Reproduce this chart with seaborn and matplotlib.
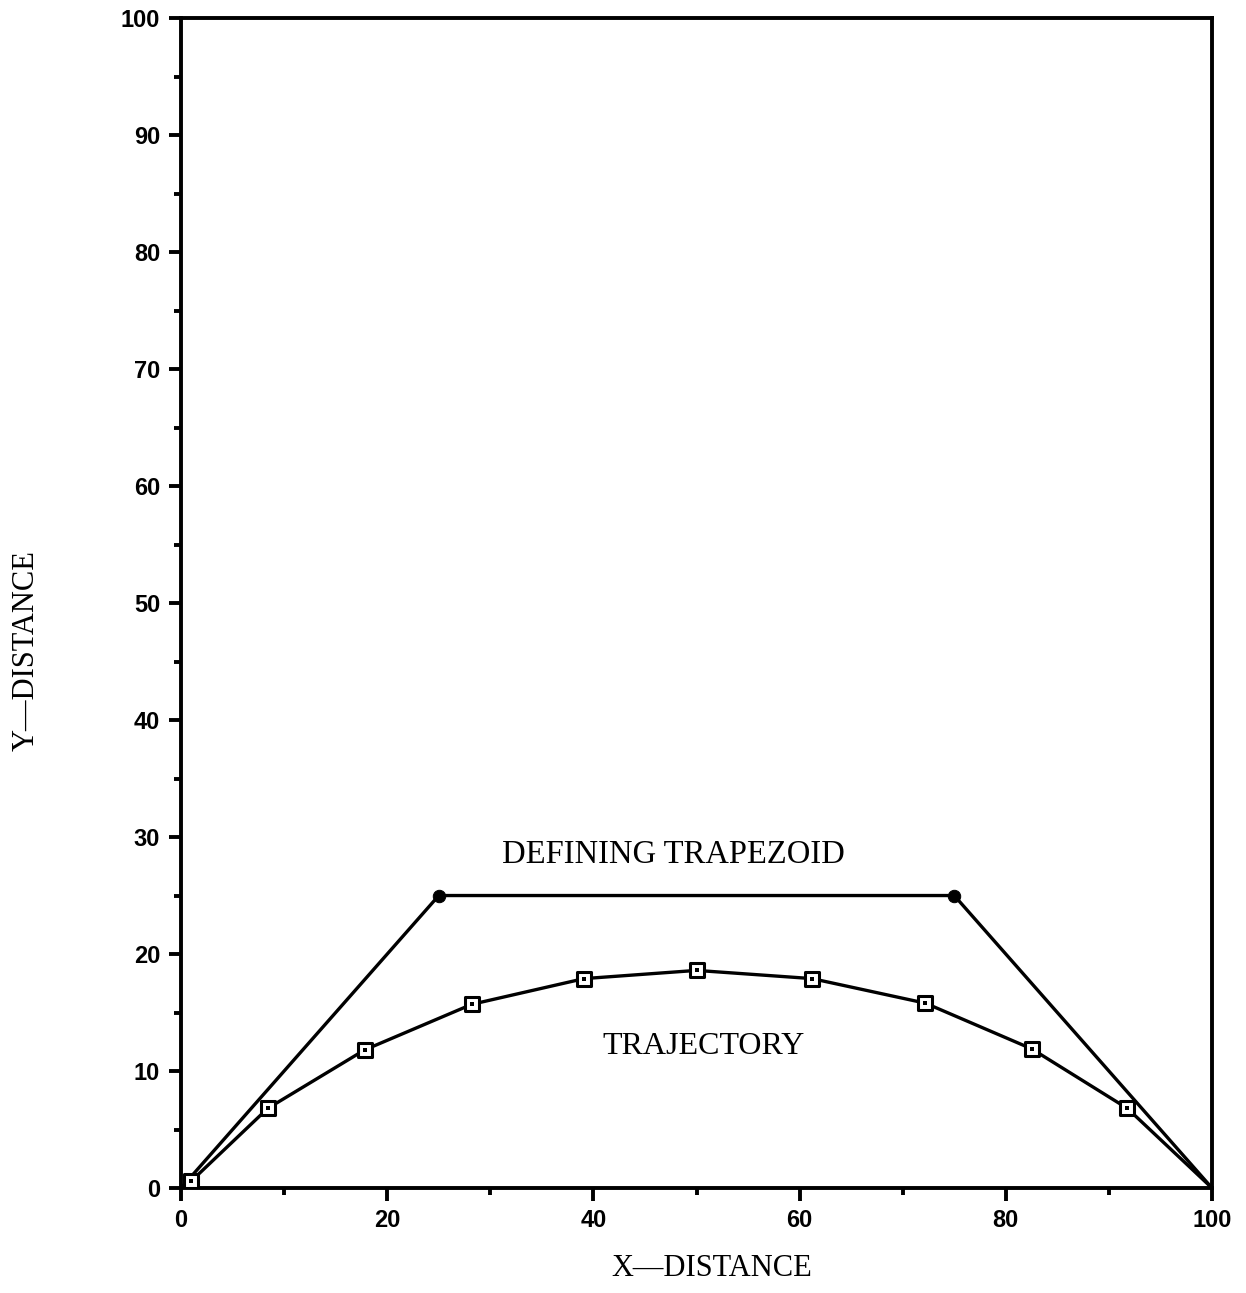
import matplotlib
matplotlib.use("Agg")
import matplotlib.pyplot as plt
from matplotlib.ticker import MultipleLocator
import pandas as pd
import seaborn as sns

# defining trapezoid corners
trap_x = [0, 25, 75, 100]
trap_y = [0, 25, 25, 0]

# trajectory points
traj_x = [1.0, 8.4, 17.8, 28.2, 39.1, 50.0, 61.2, 72.2, 82.5, 91.8]
traj_y = [0.6, 6.8, 11.8, 15.7, 17.9, 18.6, 17.9, 15.8, 11.9, 6.8]
traj_end = (100, 0)

sns.set_style("ticks", rc={"axes.edgecolor": "black", "xtick.color": "black",
                           "ytick.color": "black", "text.color": "black"})
plt.rcParams['font.family'] = ['Liberation Sans', 'DejaVu Sans']

fig = plt.figure(figsize=(12.46, 12.93), dpi=100)
ax = fig.add_axes([0.1453, 0.0812, 0.8274, 0.9048])

trap = pd.DataFrame({"x": trap_x, "y": trap_y})
traj = pd.DataFrame({"x": traj_x + [traj_end[0]], "y": traj_y + [traj_end[1]]})

sns.lineplot(data=trap, x="x", y="y", sort=False, color="black", linewidth=2.4, ax=ax)
sns.scatterplot(data=trap.iloc[1:3], x="x", y="y", marker="o", s=80, color="black",
                edgecolor="black", ax=ax, zorder=4)
sns.lineplot(data=traj, x="x", y="y", sort=False, color="black", linewidth=2.4, ax=ax)
sns.scatterplot(data=traj.iloc[:-1], x="x", y="y", marker="s", s=110, color="white",
                edgecolor="black", linewidth=2.2, ax=ax, zorder=4)
sns.scatterplot(data=traj.iloc[:-1], x="x", y="y", marker="s", s=6, color="black",
                edgecolor="black", linewidth=0, ax=ax, zorder=5)

ax.set_xlim(0, 100)
ax.set_ylim(0, 100)
ax.xaxis.set_major_locator(MultipleLocator(20))
ax.xaxis.set_minor_locator(MultipleLocator(10))
ax.yaxis.set_major_locator(MultipleLocator(10))
ax.yaxis.set_minor_locator(MultipleLocator(5))
ax.tick_params(which="major", direction="out", length=9, width=2.8, labelsize=17, pad=6,
               colors="black")
ax.tick_params(which="minor", direction="out", length=5, width=2.8, colors="black")
for lab in ax.get_xticklabels() + ax.get_yticklabels():
    lab.set_fontweight("bold")
for sp in ax.spines.values():
    sp.set_linewidth(2.8)
    sp.set_color("black")
    sp.set_visible(True)

ax.set_xlabel("")
ax.set_ylabel("")
serif = ['Liberation Serif', 'DejaVu Serif']
fig.text(0.5714, 0.0075, "X\u2014DISTANCE", family=serif, fontsize=22, ha="center",
         va="bottom", color="black")
fig.text(0.021, 0.497, "Y\u2014DISTANCE", family=serif, fontsize=22, ha="center",
         va="center", rotation=90, color="black")
ax.text(47.8, 28.5, "DEFINING TRAPEZOID", family=serif, fontsize=23.5, ha="center",
        va="center", color="black")
ax.text(50.7, 12.1, "TRAJECTORY", family=serif, fontsize=23, ha="center", va="center",
        color="black")

fig.savefig("out.png", dpi=100)
